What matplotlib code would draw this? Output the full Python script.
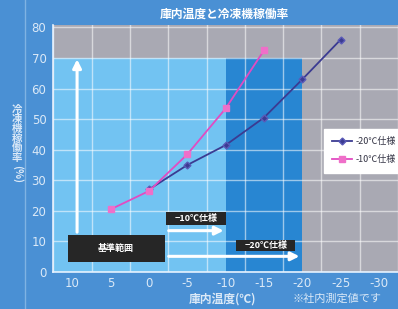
import matplotlib
matplotlib.use("Agg")
import matplotlib.pyplot as plt
from matplotlib.patches import Rectangle
from matplotlib.lines import Line2D

plt.rcParams['font.family'] = ['Noto Sans CJK JP', 'DejaVu Sans']

# data
temps_20 = [0, -5, -10, -15, -20, -25]
rate_20 = [27, 35, 41.5, 50.5, 63, 76]
temps_10 = [5, 0, -5, -10, -15]
rate_10 = [20.5, 26.5, 38.5, 53.5, 72.5]
xticks = [10, 5, 0, -5, -10, -15, -20, -25, -30]
yticks = [0, 10, 20, 30, 40, 50, 60, 70, 80]

bg = '#4a90d4'
gray = '#a9a9b3'
light = '#72c3f2'
dark = '#2886d2'
txtc = '#dbe9f7'

fig = plt.figure(figsize=(3.98, 3.09), dpi=100, facecolor=bg)
ax = fig.add_axes([0.134, 0.12, 0.866, 0.799])
ax.set_facecolor(gray)
ax.set_xlim(12.4, -31.9)
ax.set_ylim(0, 80.8)

# background zones
ax.add_patch(Rectangle((12.4, 0), -22.4, 70, facecolor=light, edgecolor='none', zorder=0.2))
ax.add_patch(Rectangle((-10, 0), -10, 70, facecolor=dark, edgecolor='none', zorder=0.2))

# grid
ax.set_axisbelow(True)
ax.set_xticks([12.5 - 2.5 * i for i in range(19)], minor=True)
ax.set_yticks(yticks)
ax.set_xticks(xticks)
ax.grid(True, which='minor', axis='x', color='white', alpha=0.55, lw=1.0)
ax.grid(True, which='major', axis='y', color='white', alpha=0.55, lw=1.0)
ax.tick_params(which='both', length=0)
ax.set_xticklabels([str(t) for t in xticks], color=txtc, fontsize=8.5, fontfamily='DejaVu Sans')
ax.set_yticklabels([str(t) for t in yticks], color=txtc, fontsize=8.5, fontfamily='DejaVu Sans')
ax.tick_params(axis='x', pad=4)
ax.tick_params(axis='y', pad=5)

for s in ['top', 'right']:
    ax.spines[s].set_visible(False)
for s in ['left', 'bottom']:
    ax.spines[s].set_color('#e6f2ff')
    ax.spines[s].set_linewidth(1.2)

# series
ax.plot(temps_20, rate_20, color='#3b3b92', lw=1.3, marker='D', ms=3.5,
        mfc='#3b3b92', mec='#5a5ab8', label='-20℃仕様', zorder=5)
ax.plot(temps_10, rate_10, color='#e24bc2', lw=1.3, marker='s', ms=4.5,
        mfc='#ef6fc9', mec='#ef6fc9', label='-10℃仕様', zorder=6)

# annotation boxes and arrows
ax.add_patch(Rectangle((10.64, 3.4), -12.74, 8.7, facecolor='#262626', edgecolor='none', zorder=7))
ax.text(4.3, 7.7, '基準範囲', color='white', fontsize=6.5, ha='center', va='center',
        fontweight='bold', zorder=8)
ax.add_patch(Rectangle((-2.2, 15.5), -7.9, 4.0, facecolor='#262626', edgecolor='none', zorder=7))
ax.text(-6.15, 17.5, '−10℃仕様', color='white', fontsize=6.5, ha='center', va='center',
        fontweight='bold', zorder=8)
ax.add_patch(Rectangle((-11.4, 7.0), -7.7, 3.5, facecolor='#262626', edgecolor='none', zorder=7))
ax.text(-15.25, 8.75, '−20℃仕様', color='white', fontsize=6.5, ha='center', va='center',
        fontweight='bold', zorder=8)

arr = dict(arrowstyle='-|>,head_length=0.5,head_width=0.25', color='white', lw=2.2)
ax.annotate('', xy=(-10.1, 13.5), xytext=(-2.2, 13.5), arrowprops=arr, zorder=8)
ax.annotate('', xy=(-20.0, 5.1), xytext=(-2.2, 5.1), arrowprops=arr, zorder=8)
ax.annotate('', xy=(9.4, 70.5), xytext=(9.4, 12.1), arrowprops=arr, zorder=8)

# legend
leg = ax.legend(loc='upper left', bbox_to_anchor=(0.802, 0.597), bbox_transform=fig.transFigure,
                fontsize=6.5, frameon=True, fancybox=False, framealpha=1,
                edgecolor='white', facecolor='white', handlelength=2.2,
                borderpad=0.9, labelspacing=1.0, handletextpad=0.4)
for t in leg.get_texts():
    t.set_color('#333344')

# titles and labels
fig.text(0.563, 0.955, '庫内温度と冷凍機稼働率', color='white', fontsize=8.5,
         fontweight='bold', ha='center', va='center')
fig.text(0.043, 0.567, '冷\n凍\n機\n稼\n働\n率', color=txtc, fontsize=7.5, fontweight='bold',
         ha='center', va='center', linespacing=0.95)
fig.text(0.043, 0.438, '(%)', color=txtc, fontsize=7.5, fontweight='bold',
         ha='center', va='center', rotation=-90)
fig.text(0.558, 0.032, '庫内温度(℃)', color=txtc, fontsize=8.5, fontweight='bold',
         ha='center', va='center')
fig.text(0.735, 0.032, '※社内測定値です', color=txtc, fontsize=8, ha='left', va='center')

fig.add_artist(Line2D([0.064, 0.064], [0, 1], transform=fig.transFigure, color='#7fb3e3', lw=1.0))

fig.savefig('out.png', dpi=100, facecolor=bg)
